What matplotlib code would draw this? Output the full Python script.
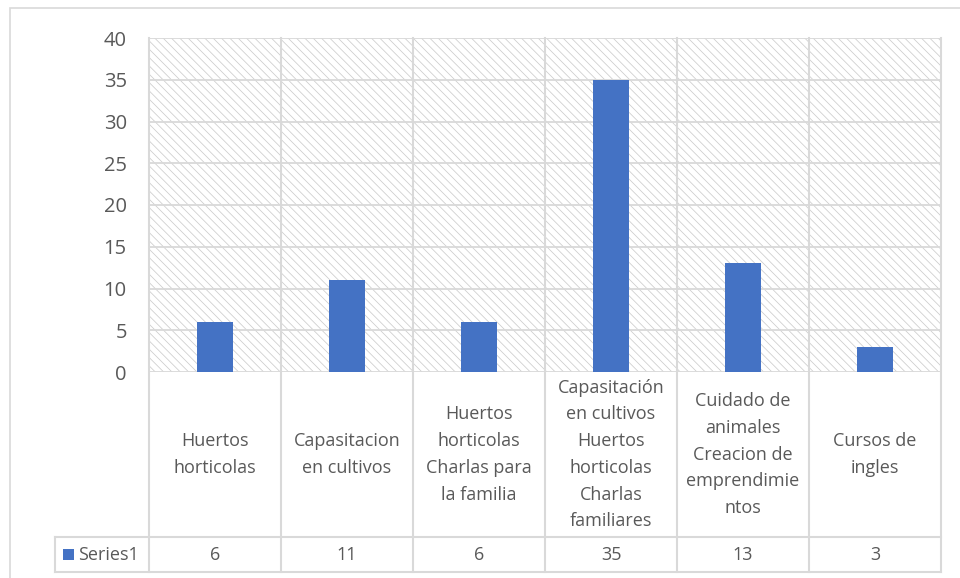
import matplotlib
matplotlib.use("Agg")
import matplotlib.pyplot as plt
from matplotlib.patches import Rectangle
from matplotlib.transforms import blended_transform_factory

categories = [
    "Huertos\nhorticolas",
    "Capasitacion\nen cultivos",
    "Huertos\nhorticolas\nCharlas para\nla familia",
    "Capasitación\nen cultivos\nHuertos\nhorticolas\nCharlas\nfamiliares",
    "Cuidado de\nanimales\nCreacion de\nemprendimie\nntos",
    "Cursos de\ningles",
]
values = [6, 11, 6, 35, 13, 3]
series_name = "Series1"
y_ticks = [0, 5, 10, 15, 20, 25, 30, 35, 40]

BAR = "#4472C4"
GRID = "#d9d9d9"
TXT = "#595959"

plt.rcParams["font.family"] = ["Open Sans", "DejaVu Sans"]
plt.rcParams["hatch.color"] = "#cccccc"
plt.rcParams["hatch.linewidth"] = 0.55

W, H = 960, 578
fig = plt.figure(figsize=(W / 100, H / 100), dpi=100)

# plot area in pixels
left, right, top, bottom = 149, 941, 38, 372
ax = fig.add_axes([left / W, 1 - bottom / H, (right - left) / W, (bottom - top) / H])

# outer chart border
fig.add_artist(Rectangle((10 / W, -0.1), 1.2, 1 - 8 / H + 0.1, transform=fig.transFigure,
                         fill=False, edgecolor=GRID, lw=1.2))

n = len(values)
ax.set_xlim(-0.5, n - 0.5)
ax.set_ylim(0, 40)

# hatched background
ax.add_patch(Rectangle((0, 0), 1, 1, transform=ax.transAxes, facecolor="white",
                       edgecolor="#cccccc", hatch="\\\\\\\\", lw=0, zorder=0))
ax.patch.set_visible(False)

for y in y_ticks:
    ax.axhline(y, color=GRID, lw=1.3, zorder=1)

ax.bar(range(n), values, width=0.27, color=BAR, zorder=3)

for s in ax.spines.values():
    s.set_visible(False)
ax.set_xticks([])
ax.set_yticks(y_ticks)
ax.tick_params(axis="y", length=0, pad=16, labelsize=14.5, labelcolor=TXT)

# data table
tr = blended_transform_factory(ax.transData, ax.transAxes)
ph = bottom - top
row1 = -(537 - bottom) / ph
row2 = -(572 - bottom) / ph
lbl_left = -(left - 55) / (right - left)

line_kw = dict(color=GRID, lw=1.5, clip_on=False, zorder=2)
for i in range(n + 1):
    x = i - 0.5
    ax.plot([x, x], [row2, 1], transform=tr, **line_kw)
ax.plot([lbl_left, 1], [row1, row1], transform=ax.transAxes, **line_kw)
ax.plot([lbl_left, 1], [row2, row2], transform=ax.transAxes, **line_kw)
ax.plot([lbl_left, lbl_left], [row1, row2], transform=ax.transAxes, **line_kw)

for i, (cat, v) in enumerate(zip(categories, values)):
    ax.text(i, row1 / 2, cat, transform=tr, ha="center", va="center",
            fontsize=13, color=TXT, linespacing=1.62)
    ax.text(i, (row1 + row2) / 2, str(v), transform=tr, ha="center", va="center",
            fontsize=13, color=TXT)

key_x = lbl_left + 8 / (right - left)
ax.add_patch(Rectangle((key_x, (row1 + row2) / 2 - 5 / ph), 11 / (right - left), 11 / ph,
                       transform=ax.transAxes, facecolor=BAR, lw=0, clip_on=False))
ax.text(key_x + 15 / (right - left), (row1 + row2) / 2, series_name, transform=ax.transAxes,
        ha="left", va="center", fontsize=13, color=TXT)

fig.savefig("out.png", dpi=100)
